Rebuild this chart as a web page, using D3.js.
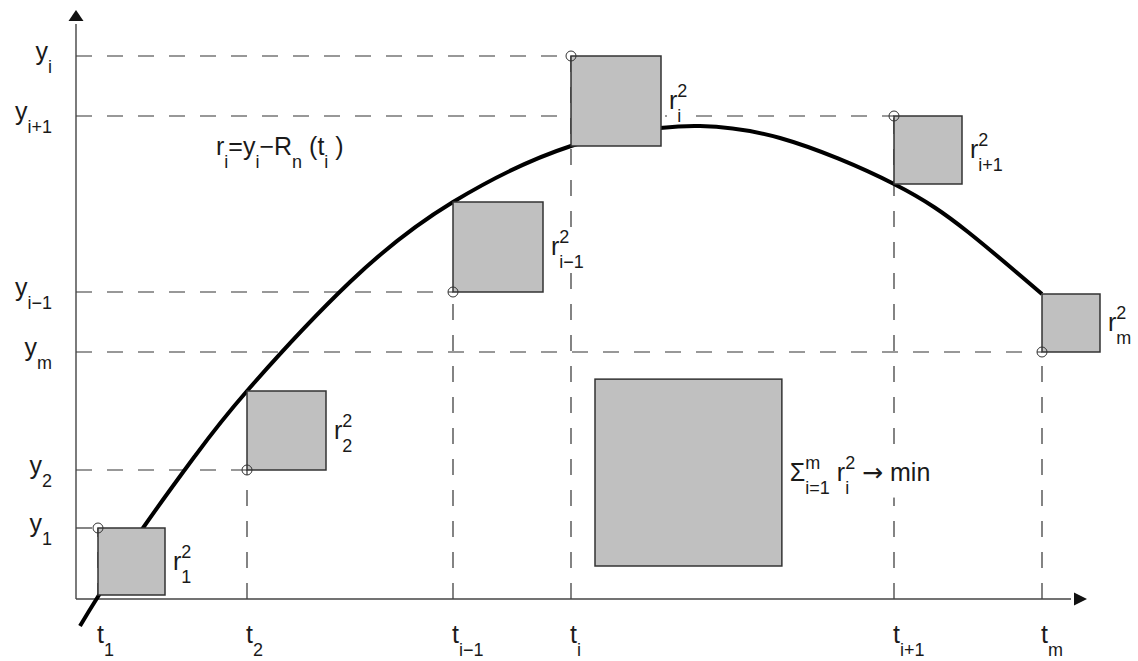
<!DOCTYPE html>
<html>
<head>
<meta charset="utf-8">
<script src="https://cdn.jsdelivr.net/npm/d3@7"></script>
<style>
  body { margin: 0; background: #fff; }
  text { font-family: "Liberation Sans", Arial, sans-serif; fill: #1a1a1a; white-space: pre; }
</style>
</head>
<body>
<svg id="chart" width="1138" height="661"></svg>
<script>
// Measurements (t_k, y_k) and model values R_n(t_k), in plot units
const tNames = ["1", "2", "i−1", "i", "i+1", "m"];
const tValues = [2.2, 17.1, 37.7, 49.5, 81.8, 96.6];
const yValues = [7.1, 12.9, 30.7, 54.3, 48.3, 24.7];
const modelValues = [0.4, 20.8, 39.7, 45.3, 41.5, 30.5];

// Samples of the fitted curve R_n(t)
const curveT = [0.4, 2.3, 6.7, 11.9, 17.1, 27.4, 37.7, 49.5, 58.4, 62.4, 70.4, 81.8, 89.2, 96.6];
const curveR = [-2.7, 0.4, 7.1, 14.3, 20.8, 31.7, 39.7, 45.3, 47.1, 47.3, 46.1, 41.5, 36.7, 30.5];

// Where the summed square sits
const sumBoxT = 51.9;
const sumBoxBottom = 3.3;

const MAIN = 25;
const SMALL = 18;

const svg = d3.select("#chart");
svg.append("rect").attr("width", 1138).attr("height", 661).attr("fill", "#fff");

const x = d3.scaleLinear().domain([0, 101]).range([76, 1086]);
const y = d3.scaleLinear().domain([0, 59]).range([599, 9]);

const residuals = tValues.map((t, i) => Math.abs(yValues[i] - modelValues[i]));

// Layers
const guideLayer = svg.append("g");
const bgLayer = svg.append("g");
const markLayer = svg.append("g");
const textLayer = svg.append("g");

// Text with sub/superscripts; parts: {m} or {sub, sup}
function richText(x0, baseline, parts, anchor, backed) {
  const grp = textLayer.append("g");
  let cx = 0;
  parts.forEach(p => {
    if (p.m != null) {
      const t = grp.append("text").attr("x", cx).attr("y", 0)
        .attr("font-size", p.size || MAIN).text(p.m);
      if (p.font) t.style("font-family", p.font);
      cx += t.node().getComputedTextLength();
    } else {
      let w = 0;
      if (p.sup) {
        const t = grp.append("text").attr("x", cx).attr("y", -12)
          .attr("font-size", SMALL).text(p.sup);
        w = Math.max(w, t.node().getComputedTextLength());
      }
      if (p.sub) {
        const t = grp.append("text").attr("x", cx).attr("y", 13)
          .attr("font-size", SMALL).text(p.sub);
        w = Math.max(w, t.node().getComputedTextLength());
      }
      cx += w;
    }
  });
  const dx = anchor === "end" ? x0 - cx : x0;
  grp.attr("transform", `translate(${dx},${baseline})`);
  if (backed) {
    const b = grp.node().getBBox();
    bgLayer.append("rect")
      .attr("x", dx - 2).attr("y", baseline + b.y)
      .attr("width", cx + 4).attr("height", b.height)
      .attr("fill", "#fff");
  }
}

// Dashed guide lines (drawn from the axes outwards)
const guides = guideLayer.append("g")
  .attr("stroke", "#333")
  .attr("stroke-width", 1.2)
  .attr("stroke-dasharray", "16,15");

tValues.forEach((t, i) => {
  guides.append("line")
    .attr("x1", x(0)).attr("y1", y(yValues[i]))
    .attr("x2", x(t)).attr("y2", y(yValues[i]));
  guides.append("line")
    .attr("x1", x(t)).attr("y1", y(0))
    .attr("x2", x(t)).attr("y2", y(yValues[i]));
});

// Axes
const axes = markLayer.append("g").attr("stroke", "#444").attr("stroke-width", 1.4);
axes.append("line").attr("x1", x(0)).attr("y1", y(0)).attr("x2", x(0)).attr("y2", y(57.5));
axes.append("line").attr("x1", x(0)).attr("y1", y(0)).attr("x2", x(99.5)).attr("y2", y(0));
markLayer.append("path")
  .attr("d", `M${x(0)},${y(59) + 1} L${x(0) - 7.5},${y(57.8)} L${x(0) + 7.5},${y(57.8)} Z`)
  .attr("fill", "#111");
markLayer.append("path")
  .attr("d", `M${x(101) + 1},${y(0)} L${x(99.8)},${y(0) - 6.5} L${x(99.8)},${y(0) + 6.5} Z`)
  .attr("fill", "#111");

// Fitted curve
const line = d3.line()
  .x((d, i) => x(curveT[i]))
  .y((d, i) => y(curveR[i]))
  .curve(d3.curveNatural);

markLayer.append("path")
  .datum(curveT)
  .attr("d", line)
  .attr("fill", "none")
  .attr("stroke", "#000")
  .attr("stroke-width", 4);

// Residual squares
tValues.forEach((t, i) => {
  const r = residuals[i];
  const top = Math.max(yValues[i], modelValues[i]);
  markLayer.append("rect")
    .attr("x", x(t))
    .attr("y", y(top))
    .attr("width", x(t + r) - x(t))
    .attr("height", y(top - r) - y(top))
    .attr("fill", "#c0c0c0")
    .attr("stroke", "#333")
    .attr("stroke-width", 1.5);
});

// Square with the summed area
const sumSide = Math.sqrt(d3.sum(residuals, r => r * r));
markLayer.append("rect")
  .attr("x", x(sumBoxT))
  .attr("y", y(sumBoxBottom + sumSide))
  .attr("width", x(sumBoxT + sumSide) - x(sumBoxT))
  .attr("height", y(sumBoxBottom) - y(sumBoxBottom + sumSide))
  .attr("fill", "#c0c0c0")
  .attr("stroke", "#333")
  .attr("stroke-width", 1.5);

// Measurement circles
tValues.forEach((t, i) => {
  markLayer.append("circle")
    .attr("cx", x(t)).attr("cy", y(yValues[i]))
    .attr("r", 5)
    .attr("fill", "none")
    .attr("stroke", "#333")
    .attr("stroke-width", 1);
});

// Square labels
tValues.forEach((t, i) => {
  const r = residuals[i];
  const top = Math.max(yValues[i], modelValues[i]);
  richText(x(t + r) + 8, y(top - r / 2) + 8, [{ m: "r" }, { sup: "2", sub: tNames[i] }], "start", true);
});

richText(x(sumBoxT + sumSide) + 8, y(sumBoxBottom + sumSide / 2) + 8, [
  { m: "Σ" }, { sup: "m", sub: "i=1" }, { m: " r" }, { sup: "2", sub: "i" },
  { m: " " }, { m: "→", font: "DejaVu Sans", size: 25 }, { m: " min" }
], "start", true);

// Axis labels
tValues.forEach((t, i) => {
  richText(x(t) - 1, 643, [{ m: "t" }, { sub: tNames[i] }]);
  richText(52, y(yValues[i]) + 4, [{ m: "y" }, { sub: tNames[i] }], "end");
});

// Residual formula
richText(216, 155, [
  { m: "r" }, { sub: "i" }, { m: "=y" }, { sub: "i" }, { m: "−R" }, { sub: "n" },
  { m: " (t" }, { sub: "i" }, { m: " )" }
]);
</script>
</body>
</html>
